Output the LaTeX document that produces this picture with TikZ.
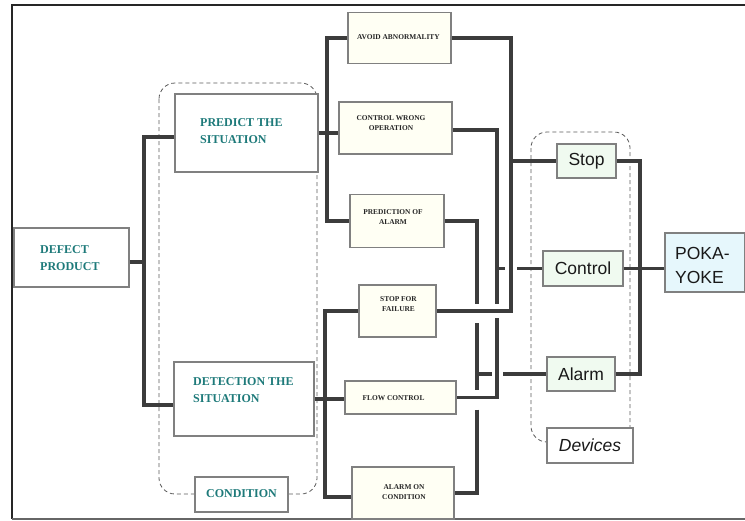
\documentclass[tikz,border=0pt]{standalone}
\usepackage{fontspec}
\setmainfont{Liberation Serif}
\setsansfont{Liberation Sans}
\usetikzlibrary{calc}
\definecolor{wirecol}{RGB}{60,60,60}
\definecolor{boxcol}{RGB}{128,128,128}
\definecolor{cream}{RGB}{255,255,244}
\definecolor{tealc}{RGB}{30,122,122}
\definecolor{mint}{RGB}{240,250,240}
\definecolor{skyc}{RGB}{230,247,252}
\definecolor{dashcol}{RGB}{90,90,90}
\begin{document}
\begin{tikzpicture}[x=1pt,y=-1pt,
  wire/.style={draw=wirecol, line width=3.3pt},
  box/.style={draw=boxcol, line width=1.3pt, fill=white, inner sep=0pt},
  midbox/.style={box, fill=cream},
  group/.style={draw=dashcol, line width=0.8pt, dash pattern=on 4pt off 3pt, rounded corners=16pt},
  tealtxt/.style={text=tealc, font=\bfseries\fontsize{12}{16.5}\selectfont, align=left, inner sep=0pt, anchor=west},
  smalltxt/.style={text=black!85, font=\bfseries\fontsize{7.4}{10}\selectfont, align=center, inner sep=0pt},
  devbox/.style={draw=boxcol, line width=1.3pt, fill=mint, inner sep=0pt, text=black!90,
    font=\sffamily\fontsize{17.5}{20}\selectfont},
]
\useasboundingbox (0,0) rectangle (745,520);

% outer frame
\draw[line width=2.2pt, black!85] (745,5) -- (12,5) -- (12,519);
\draw[line width=1.3pt, black!60] (12,519) -- (745,519);

% dashed groups (drawn first, boxes sit on top)
\draw[group] (159,83) rectangle (317,494);
\draw[group] (531,132) rectangle (630,442);

% left column
\node[box, minimum width=115pt, minimum height=59pt] (defect) at (71.5,257.5) {};
\node[tealtxt] (defecttxt) at (40,258) {DEFECT\\PRODUCT};
\node[box, minimum width=143pt, minimum height=78pt] (predict) at (246.5,133) {};
\node[tealtxt] (predicttxt) at (200,131) {PREDICT THE\\SITUATION};
\node[box, minimum width=140pt, minimum height=74pt] (detect) at (244,399) {};
\node[tealtxt] (detecttxt) at (193,390) {DETECTION THE\\SITUATION};
\node[box, minimum width=93pt, minimum height=35pt] (cond) at (241.5,494.5) {};
\node[tealtxt, anchor=center] (condtxt) at (241.5,494) {CONDITION};

% middle column
\node[midbox, minimum width=103pt, minimum height=51pt] (avoid) at (399.5,38) {};
\node[smalltxt] (avoidtxt) at (398.5,37) {AVOID ABNORMALITY};
\node[midbox, minimum width=113pt, minimum height=52pt] (ctrlw) at (395.5,128) {};
\node[smalltxt] (ctrlwtxt) at (391,123) {CONTROL WRONG\\OPERATION};
\node[midbox, minimum width=94pt, minimum height=53pt] (predal) at (397,221) {};
\node[smalltxt] (predaltxt) at (393,217) {PREDICTION OF\\ALARM};
\node[midbox, minimum width=77pt, minimum height=52pt] (stopfail) at (397.5,311) {};
\node[smalltxt] (stopfailtxt) at (398.5,304) {STOP FOR\\FAILURE};
\node[midbox, minimum width=111pt, minimum height=33pt] (flow) at (400.5,397.5) {};
\node[smalltxt] (flowtxt) at (393.5,398) {FLOW CONTROL};
\node[midbox, minimum width=102pt, minimum height=52pt] (alarmc) at (403,493) {};
\node[smalltxt] (alarmctxt) at (404,492.5) {ALARM ON\\CONDITION};

% devices
\node[devbox, minimum width=59pt, minimum height=34pt] (stop) at (586.5,161) {Stop};
\node[devbox, minimum width=80pt, minimum height=35pt] (control) at (583,268.5) {Control};
\node[devbox, minimum width=68pt, minimum height=34pt] (alarm) at (581,374) {Alarm};
\node[devbox, fill=white, minimum width=86pt, minimum height=35pt,
  font=\sffamily\itshape\fontsize{17.5}{20}\selectfont] (devices) at (590,445.5) {Devices};
\node[devbox, fill=skyc, minimum width=80pt, minimum height=59pt] (poka) at (705,262.5) {};
\node[inner sep=0pt, anchor=west, align=left, text=black!90,
  font=\sffamily\fontsize{17.5}{24}\selectfont] (pokatxt) at (675,265) {POKA-\\YOKE};

% bus positions
\coordinate (xa) at (144,0);
\coordinate (xb) at (327,0);
\coordinate (xc) at (325,0);
\coordinate (xd) at (511,0);
\coordinate (xe) at (497,0);
\coordinate (xf) at (477,0);
\coordinate (xg) at (640,0);

% defect product splits into prediction and detection
\coordinate (d0) at ($(defect.east)+(0,4.5)$);
\coordinate (p0) at ($(predict.west)+(0,4)$);
\coordinate (t0) at ($(detect.west)+(0,6)$);
\draw[wire] (d0) -- (xa |- d0);
\draw[wire] (p0) -- (xa |- p0) -- (xa |- t0) -- (t0);

% prediction branch
\draw[wire] (predict.east) -- (ctrlw.west |- predict.east);
\draw[wire] (avoid.west) -- (xb |- avoid.west) -- (xb |- predal.west) -- (predal.west);

% detection branch
\coordinate (a0) at ($(alarmc.west)+(0,4)$);
\draw[wire] (detect.east) -- (flow.west |- detect.east);
\draw[wire] (stopfail.west) -- (xc |- stopfail.west) -- (xc |- a0) -- (a0);

% stop bus
\draw[wire] (avoid.east) -- (xd |- avoid.east) -- (xd |- stopfail.east) -- (stopfail.east);
\draw[wire] (xd |- stop.west) -- (stop.west);

% control bus, hopping over the stop lines
\coordinate (c0) at ($(ctrlw.east)+(0,2)$);
\draw[wire] (c0) -- (xe |- c0) -- ($(xe |- stopfail.east)+(0,-7)$);
\draw[wire] ($(xe |- stopfail.east)+(0,7)$) -- (xe |- flow.east) -- (flow.east);
\draw[wire] (xe |- control.west) -- ($(xd |- control.west)+(-6,0)$);
\draw[wire] ($(xd |- control.west)+(6,0)$) -- (control.west);

% alarm bus, hopping over the stop and control lines
\draw[wire] (predal.east) -- (xf |- predal.east) -- ($(xf |- stopfail.east)+(0,-7)$);
\draw[wire] ($(xf |- stopfail.east)+(0,12)$) -- ($(xf |- flow.east)+(0,-8)$);
\draw[wire] ($(xf |- flow.east)+(0,12)$) -- (xf |- alarmc.east) -- (alarmc.east);
\draw[wire] (xf |- alarm.west) -- ($(xe |- alarm.west)+(-5,0)$);
\draw[wire] ($(xe |- alarm.west)+(6,0)$) -- (alarm.west);

% devices into poka-yoke
\draw[wire] (stop.east) -- (xg |- stop.east) -- (xg |- alarm.east) -- (alarm.east);
\draw[wire] (control.east) -- (poka.west |- control.east);
\end{tikzpicture}
\end{document}
